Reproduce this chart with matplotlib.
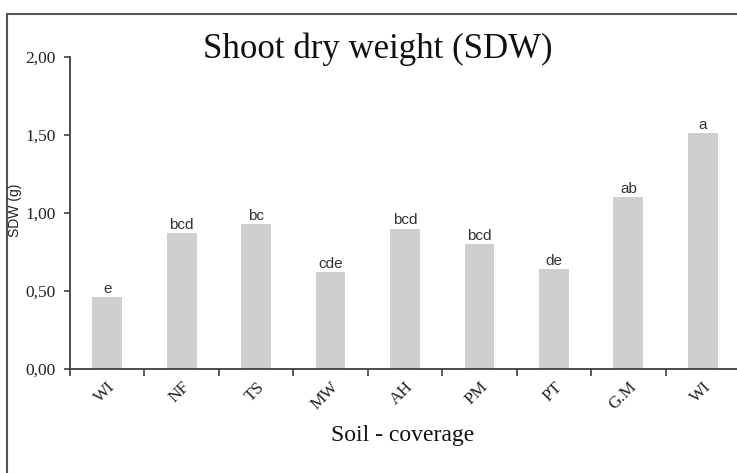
import matplotlib
matplotlib.use("Agg")
import matplotlib.pyplot as plt
from matplotlib.patches import Rectangle
from matplotlib.ticker import FixedLocator, FuncFormatter

categories = ["WI", "NF", "TS", "MW", "AH", "PM", "PT", "G.M", "WI"]
sdw = [0.46, 0.87, 0.93, 0.62, 0.90, 0.80, 0.64, 1.10, 1.51]
letters = ["e", "bcd", "bc", "cde", "bcd", "bcd", "de", "ab", "a"]
yticks = [0.0, 0.5, 1.0, 1.5, 2.0]

W, H = 737, 473
fig = plt.figure(figsize=(W / 100, H / 100), dpi=100)
fig.patch.set_facecolor("white")

# outer frame (right and bottom edges are cut off in the reference)
fig.patches.append(Rectangle((7 / W, -0.1), 1.2, (H - 14) / H + 0.1,
                             transform=fig.transFigure, fill=False,
                             edgecolor="#555555", linewidth=1.5))

left = 70 / W
right = 740 / W
bottom = (H - 369) / H
top = (H - 57) / H
ax = fig.add_axes([left, bottom, right - left, top - bottom])
ax.set_facecolor("none")

x = list(range(len(categories)))
ax.bar(x, sdw, width=0.4, color="#cfcfcf", edgecolor="none", zorder=2)

for xi, v, lab in zip(x, sdw, letters):
    ax.annotate(lab, (xi, v), xytext=(0, 1), textcoords="offset points",
                ha="center", va="bottom", fontsize=11,
                family="Liberation Sans", color="#333333")

ax.set_xlim(-0.5, len(categories) - 0.5)
ax.set_ylim(0, 2.0)

for s in ["top", "right"]:
    ax.spines[s].set_visible(False)
for s in ["left", "bottom"]:
    ax.spines[s].set_color("#404040")
    ax.spines[s].set_linewidth(1.3)

ax.yaxis.set_major_locator(FixedLocator(yticks))
ax.yaxis.set_major_formatter(FuncFormatter(lambda v, p: f"{v:.2f}".replace(".", ",")))
ax.tick_params(axis="y", direction="out", length=4, width=1.2, color="#404040",
               pad=6, labelsize=12.5, labelcolor="#222222")
for t in ax.get_yticklabels():
    t.set_family("Liberation Serif")

# boundary ticks (major) and category labels (minor)
ax.xaxis.set_major_locator(FixedLocator([i - 0.5 for i in range(len(categories) + 1)]))
ax.xaxis.set_major_formatter(FuncFormatter(lambda v, p: ""))
ax.xaxis.set_minor_locator(FixedLocator(x))
ax.set_xticklabels(categories, minor=True)
ax.tick_params(axis="x", which="major", direction="out", length=5, width=1.2, color="#404040")
ax.tick_params(axis="x", which="minor", length=0, pad=7, labelsize=12.5, labelcolor="#222222")
for t in ax.get_xticklabels(minor=True):
    t.set_family("Liberation Serif")
    t.set_rotation(45)
    t.set_ha("right")
    t.set_va("top")
    t.set_rotation_mode("anchor")

fig.text(377.5 / W, (H - 58) / H, "Shoot dry weight (SDW)", ha="center", va="baseline",
         fontsize=25, family="Liberation Serif", color="#111111")
fig.text(403 / W, (H - 441) / H, "Soil - coverage", ha="center", va="baseline",
         fontsize=17, family="Liberation Serif", color="#111111")
fig.text(15 / W, (H - 210) / H, "SDW (g)", ha="center", va="center", rotation=90,
         fontsize=10, family="Liberation Sans", color="#222222")

fig.savefig("out.png", dpi=100)
